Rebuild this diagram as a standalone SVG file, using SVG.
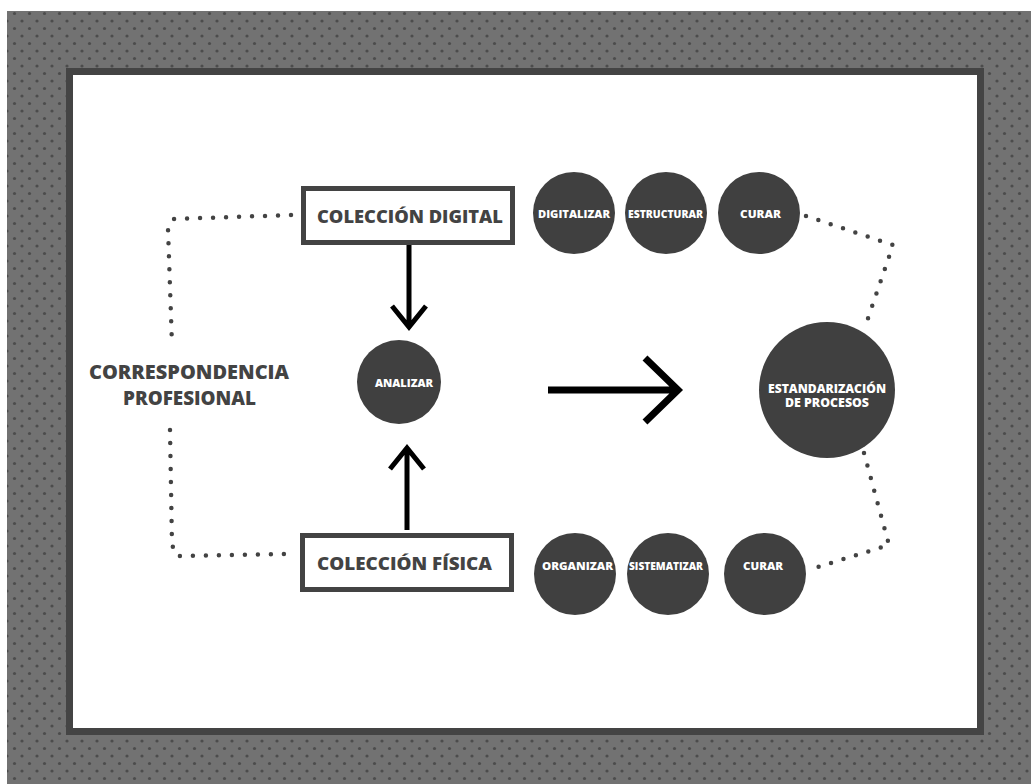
<svg xmlns="http://www.w3.org/2000/svg" width="1031" height="784" viewBox="0 0 1031 784">
<defs>
<pattern id="dots" x="7" y="6" width="15" height="15" patternUnits="userSpaceOnUse">
<rect width="15" height="15" fill="#727272"/>
<circle cx="0" cy="0" r="1.6" fill="#4c4c4c"/>
<circle cx="15" cy="0" r="1.6" fill="#4c4c4c"/>
<circle cx="0" cy="15" r="1.6" fill="#4c4c4c"/>
<circle cx="15" cy="15" r="1.6" fill="#4c4c4c"/>
<circle cx="7.5" cy="7.5" r="1.6" fill="#4c4c4c"/>
</pattern>
<style>
.box{fill:#fff;stroke:#434343;stroke-width:5}
.circ{fill:#404040}
.lbl{font-family:"Open Sans","Liberation Sans",sans-serif;font-weight:800;fill:#434343;text-anchor:middle}
.wt{font-family:"Open Sans","Liberation Sans",sans-serif;font-weight:800;fill:#fff;text-anchor:middle}
.dot{fill:none;stroke:#434343;stroke-width:4.5;stroke-linecap:round;stroke-dasharray:0 13}
.arr{fill:none;stroke:#000;stroke-linecap:butt;stroke-linejoin:miter}
</style>
</defs>
<rect width="1031" height="784" fill="#fff"/>
<rect x="7" y="11" width="1024" height="773" fill="url(#dots)"/>
<rect x="69.5" y="71.5" width="911" height="660" fill="#fff" stroke="#444" stroke-width="7"/>

<g id="connectors">
<path class="dot" d="M291 215 L174 219 L168 229 L172 345"/>
<path class="dot" d="M170 430 L172 545 L177 556 L291 554"/>
<path class="dot" d="M806 216 L893 245 L864 330"/>
<path class="dot" d="M864 453 L889 545 L808 570"/>
<path class="arr" stroke-width="5" d="M409 245 V326 M392 306 L409 327 L426 306"/>
<path class="arr" stroke-width="5" d="M407 530 V449 M390 469 L407 448 L424 469"/>
<path class="arr" stroke-width="7" d="M548 390 H677 M645 358 L678 390 L645 422"/>
</g>

<g id="coleccion-digital">
<rect class="box" x="303.5" y="188.5" width="209" height="54"/>
<text class="lbl" x="410" y="223" font-size="18" textLength="186" lengthAdjust="spacingAndGlyphs">COLECCIÓN DIGITAL</text>
</g>
<g id="coleccion-fisica">
<rect class="box" x="302.5" y="535.5" width="209" height="54"/>
<text class="lbl" x="404.5" y="570" font-size="18" textLength="175" lengthAdjust="spacingAndGlyphs">COLECCIÓN FÍSICA</text>
</g>
<g id="correspondencia">
<text class="lbl" x="189" y="379" font-size="19" textLength="200" lengthAdjust="spacingAndGlyphs">CORRESPONDENCIA</text>
<text class="lbl" x="189.5" y="405" font-size="19" textLength="133" lengthAdjust="spacingAndGlyphs">PROFESIONAL</text>
</g>
<g id="analizar">
<circle class="circ" cx="399" cy="382" r="42"/>
<text class="wt" x="404" y="387" font-size="10.5" textLength="58" lengthAdjust="spacingAndGlyphs">ANALIZAR</text>
</g>
<g id="digitalizar">
<circle class="circ" cx="574" cy="213" r="41"/>
<text class="wt" x="574" y="218" font-size="10.5" textLength="72" lengthAdjust="spacingAndGlyphs">DIGITALIZAR</text>
</g>
<g id="estructurar">
<circle class="circ" cx="666" cy="213" r="41"/>
<text class="wt" x="665.5" y="218" font-size="10.5" textLength="75" lengthAdjust="spacingAndGlyphs">ESTRUCTURAR</text>
</g>
<g id="curar-top">
<circle class="circ" cx="759" cy="213" r="41"/>
<text class="wt" x="760.5" y="218" font-size="10.5" textLength="41" lengthAdjust="spacingAndGlyphs">CURAR</text>
</g>
<g id="estandarizacion">
<circle class="circ" cx="827" cy="390" r="68"/>
<text class="wt" x="827" y="393" font-size="11.5" textLength="118" lengthAdjust="spacingAndGlyphs">ESTANDARIZACIÓN</text>
<text class="wt" x="827" y="407" font-size="11.5" textLength="84" lengthAdjust="spacingAndGlyphs">DE PROCESOS</text>
</g>
<g id="organizar">
<circle class="circ" cx="575" cy="574" r="41"/>
<text class="wt" x="577.5" y="570" font-size="10.5" textLength="71" lengthAdjust="spacingAndGlyphs">ORGANIZAR</text>
</g>
<g id="sistematizar">
<circle class="circ" cx="668" cy="574" r="41"/>
<text class="wt" x="666" y="570" font-size="10.5" textLength="74" lengthAdjust="spacingAndGlyphs">SISTEMATIZAR</text>
</g>
<g id="curar-bottom">
<circle class="circ" cx="765" cy="574" r="41"/>
<text class="wt" x="763" y="570" font-size="10.5" textLength="40" lengthAdjust="spacingAndGlyphs">CURAR</text>
</g>
</svg>
